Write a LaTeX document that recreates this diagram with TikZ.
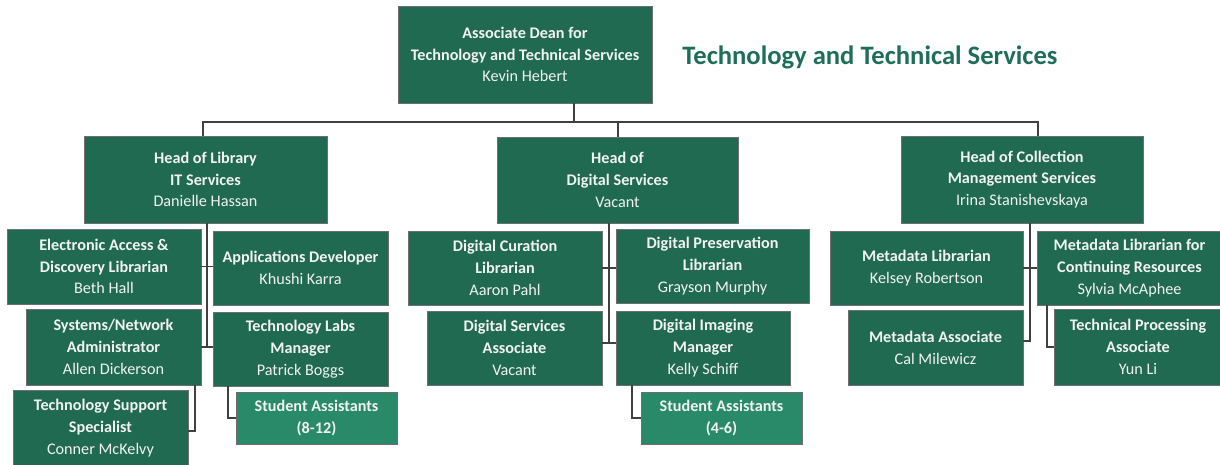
\documentclass[tikz,border=0pt]{standalone}
\usepackage{fontspec}
\setmainfont{Carlito}
\definecolor{dkgreen}{RGB}{32,106,81}
\definecolor{ltgreen}{RGB}{40,138,104}
\definecolor{boxborder}{RGB}{110,110,110}
\definecolor{titlegreen}{RGB}{31,110,90}
\definecolor{txtwhite}{RGB}{242,242,242}
\definecolor{linegray}{RGB}{64,64,64}
\tikzset{
  box/.style={draw=boxborder, line width=0.8pt, fill=dkgreen, text=txtwhite,
    align=center, inner sep=0pt, font=\fontsize{16.2}{21.8}\selectfont},
  sabox/.style={box, fill=ltgreen},
  conn/.style={draw=linegray, line width=1.4pt},
  heading/.style={text=titlegreen, font=\fontsize{26.6}{32}\selectfont\bfseries, inner sep=0pt}
}
% [style]{name}{x1}{y1}{x2}{y2}{text}
\newcommand{\orgbox}[7][box]{%
  \node[#1, minimum width={#5-#3}, minimum height={#6-#4}]
    (#2) at ({(#3+#5)/2},{(#4+#6)/2}) {#7};}
\begin{document}
\begin{tikzpicture}[x=1pt,y=-1pt]
\useasboundingbox (0,0) rectangle (1220,465);

\node[heading] (title) at (870,57) {Technology and Technical Services};

\orgbox{dean}{398}{6}{652}{103}{\textbf{Associate Dean for}\\\textbf{Technology and Technical Services}\\Kevin Hebert}

\orgbox{headIT}{84}{136}{327}{223}{\textbf{Head of Library}\\\textbf{IT Services}\\Danielle Hassan}
\orgbox{headDS}{497}{137}{738}{223}{\textbf{Head of}\\\textbf{Digital Services}\\Vacant}
\orgbox{headCM}{901}{136}{1143}{223}{\textbf{Head of Collection}\\\textbf{Management Services}\\Irina Stanishevskaya}

\orgbox{eadl}{7}{229}{201}{304}{\textbf{Electronic Access \&}\\\textbf{Discovery Librarian}\\Beth Hall}
\orgbox{appdev}{213}{231}{388}{305}{\textbf{Applications Developer}\\Khushi Karra}
\orgbox{sysnet}{26}{309}{201}{385}{\textbf{Systems/Network}\\\textbf{Administrator}\\Allen Dickerson}
\orgbox{techlabs}{213}{312}{388}{386}{\textbf{Technology Labs}\\\textbf{Manager}\\Patrick Boggs}
\orgbox{techsupp}{13}{390}{188}{466}{\textbf{Technology Support}\\\textbf{Specialist}\\Conner McKelvy}
\orgbox[sabox]{saA}{236}{392}{397}{444}{\textbf{Student Assistants}\\\textbf{(8-12)}}

\orgbox{dcl}{408}{231}{602}{305}{\textbf{Digital Curation}\\\textbf{Librarian}\\Aaron Pahl}
\orgbox{dpl}{616}{229}{809}{303}{\textbf{Digital Preservation}\\\textbf{Librarian}\\Grayson Murphy}
\orgbox{dsa}{427}{311}{602}{385}{\textbf{Digital Services}\\\textbf{Associate}\\Vacant}
\orgbox{dim}{616}{311}{790}{385}{\textbf{Digital Imaging}\\\textbf{Manager}\\Kelly Schiff}
\orgbox[sabox]{saB}{641}{392}{802}{444}{\textbf{Student Assistants}\\\textbf{(4-6)}}

\orgbox{ml}{830}{231}{1023}{305}{\textbf{Metadata Librarian}\\Kelsey Robertson}
\orgbox{mlcr}{1037}{231}{1222}{305}{\textbf{Metadata Librarian for}\\\textbf{Continuing Resources}\\Sylvia McAphee}
\orgbox{ma}{848}{310}{1023}{385}{\textbf{Metadata Associate}\\Cal Milewicz}
\orgbox{tpa}{1054}{309}{1222}{385}{\textbf{Technical Processing}\\\textbf{Associate}\\Yun Li}

% junction coordinates
\coordinate (bD) at (574,122);
\coordinate (bL) at (203,122);
\coordinate (bM) at (618,122);
\coordinate (bR) at (1038,122);
\coordinate (itv) at (207,347);
\coordinate (dsv) at (609,343);
\coordinate (cmv) at (1030,341);
\coordinate (c1) at (195,431);
\coordinate (c2) at (228,418);
\coordinate (c3) at (632,418);
\coordinate (c4) at (1047,347);

% top level
\draw[conn] (dean.south -| bD) -- (bD);
\draw[conn] (headIT.north -| bL) -- (bL) -- (bR) -- (headCM.north -| bR);
\draw[conn] (bM) -- (headDS.north -| bM);

% IT services
\draw[conn] (headIT.south -| itv) -- (itv);
\draw[conn] (eadl.east) -- (appdev.west |- eadl.east);
\draw[conn] (sysnet.east |- itv) -- (techlabs.west |- itv);
\draw[conn] (sysnet.south -| c1) -- (c1) -- (techsupp.east |- c1);
\draw[conn] (techlabs.south -| c2) -- (c2) -- (saA.west |- c2);

% Digital services
\draw[conn] (headDS.south -| dsv) -- (dsv);
\draw[conn] (dcl.east) -- (dpl.west |- dcl.east);
\draw[conn] (dsa.east |- dsv) -- (dim.west |- dsv);
\draw[conn] (dim.south -| c3) -- (c3) -- (saB.west |- c3);

% Collection management
\draw[conn] (headCM.south -| cmv) -- (cmv) -- (ma.east |- cmv);
\draw[conn] (ml.east) -- (mlcr.west |- ml.east);
\draw[conn] (mlcr.south -| c4) -- (c4) -- (tpa.west |- c4);
\end{tikzpicture}
\end{document}
